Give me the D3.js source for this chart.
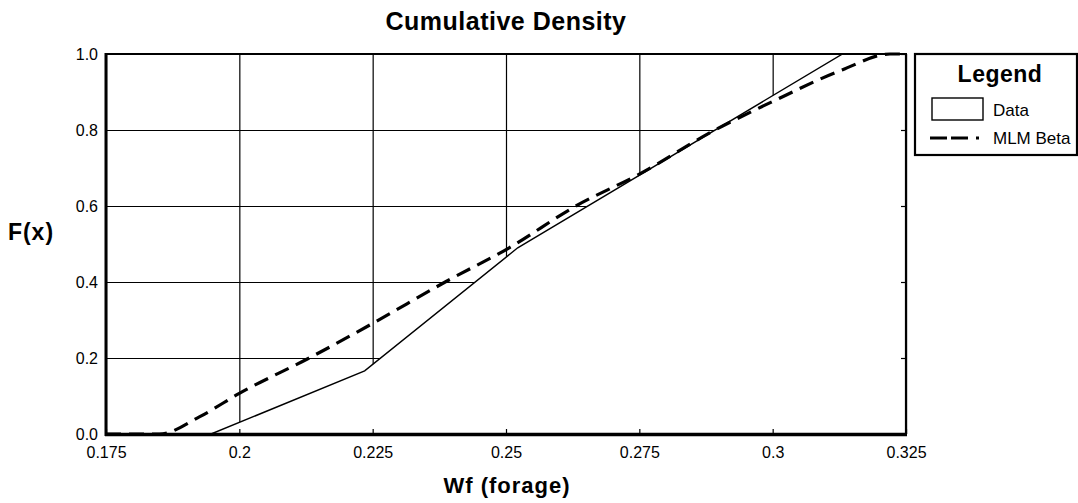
<!DOCTYPE html>
<html>
<head>
<meta charset="utf-8">
<script src="https://cdn.jsdelivr.net/npm/d3@7"></script>
<style>
  html, body { margin: 0; padding: 0; background: #fff; }
  text { font-family: "Liberation Sans", Arial, sans-serif; fill: #000; }
</style>
</head>
<body>
<svg id="chart" width="1078" height="503"></svg>
<script>
// ---- data ----
const chartTitle = "Cumulative Density";
const xLabel = "Wf (forage)";
const yLabel = "F(x)";
const xTicks = [0.175, 0.2, 0.225, 0.25, 0.275, 0.3, 0.325];
const xTickLabels = ["0.175", "0.2", "0.225", "0.25", "0.275", "0.3", "0.325"];
const yTicks = [0, 0.2, 0.4, 0.6, 0.8, 1.0];
const yTickLabels = ["0.0", "0.2", "0.4", "0.6", "0.8", "1.0"];
const seriesNames = ["Data", "MLM Beta"];
const dataX = [0.175, 0.1947, 0.2235, 0.2522, 0.3131, 0.325];
const dataF = [0, 0, 0.166, 0.49, 1.0, 1.0];
const betaX = [0.175, 0.185, 0.1925, 0.2, 0.2131, 0.225, 0.2386, 0.2506, 0.2631, 0.275, 0.2892, 0.3, 0.313, 0.322, 0.325];
const betaF = [0, 0, 0.045, 0.107, 0.2, 0.291, 0.4, 0.49, 0.6, 0.684, 0.8, 0.875, 0.958, 1.0, 1.0];

// ---- layout ----
const L = 106, R = 906, T = 54, B = 434;
const svg = d3.select("#chart");
svg.append("rect").attr("width", 1078).attr("height", 503).attr("fill", "#fff");

const x = d3.scaleLinear().domain([0.175, 0.325]).range([L, R]);
const y = d3.scaleLinear().domain([0, 1]).range([B, T]);

// grid
const gx = svg.append("g").attr("transform", `translate(0,${B})`)
  .call(d3.axisBottom(x).tickValues(xTicks).tickSize(-(B - T)).tickFormat(""));
gx.select(".domain").remove();
gx.selectAll("line").attr("stroke", "#000").attr("stroke-width", 1.2);
const gy = svg.append("g").attr("transform", `translate(${L},0)`)
  .call(d3.axisLeft(y).tickValues(yTicks).tickSize(-(R - L)).tickFormat(""));
gy.select(".domain").remove();
gy.selectAll("line").attr("stroke", "#000").attr("stroke-width", 1.2);

// data area (white) hides grid under curve
const dataPts = dataX.map((v, i) => [v, dataF[i]]);
const betaPts = betaX.map((v, i) => [v, betaF[i]]);
svg.append("path").datum(dataPts)
  .attr("d", d3.area().x(d => x(d[0])).y0(y(0)).y1(d => y(d[1])))
  .attr("fill", "#fff");
svg.append("path").datum(dataPts)
  .attr("d", d3.line().x(d => x(d[0])).y(d => y(d[1])))
  .attr("fill", "none").attr("stroke", "#000").attr("stroke-width", 1.4);

// beta dashed
svg.append("path").datum(betaPts)
  .attr("d", d3.line().curve(d3.curveMonotoneX).x(d => x(d[0])).y(d => y(d[1])))
  .attr("fill", "none").attr("stroke", "#000").attr("stroke-width", 3.2)
  .attr("stroke-dasharray", "15,8");

// inner ticks
const tb = svg.append("g").attr("transform", `translate(0,${B})`)
  .call(d3.axisTop(x).tickValues(xTicks).tickSize(5).tickFormat(""));
tb.select(".domain").remove();
tb.selectAll("line").attr("stroke", "#000").attr("stroke-width", 1.2);
const tr = svg.append("g").attr("transform", `translate(${R},0)`)
  .call(d3.axisLeft(y).tickValues(yTicks).tickSize(5).tickFormat(""));
tr.select(".domain").remove();
tr.selectAll("line").attr("stroke", "#000").attr("stroke-width", 1.2);

// frame
svg.append("line").attr("x1", L - 1).attr("x2", R + 1).attr("y1", T).attr("y2", T).attr("stroke", "#000").attr("stroke-width", 2.2);
svg.append("line").attr("x1", R).attr("x2", R).attr("y1", T).attr("y2", B).attr("stroke", "#000").attr("stroke-width", 2.2);
svg.append("line").attr("x1", L).attr("x2", L).attr("y1", T - 1).attr("y2", B + 2).attr("stroke", "#000").attr("stroke-width", 3);
svg.append("line").attr("x1", L - 1).attr("x2", R + 1).attr("y1", B + 0.5).attr("y2", B + 0.5).attr("stroke", "#000").attr("stroke-width", 3.5);

// tick labels
const lx = svg.append("g").attr("transform", `translate(0,${B})`)
  .call(d3.axisBottom(x).tickValues(xTicks).tickSize(0).tickPadding(13)
    .tickFormat((d, i) => xTickLabels[i]));
lx.select(".domain").remove();
lx.selectAll("text").attr("font-size", 16).attr("font-family", '"Liberation Sans", Arial, sans-serif');
const ly = svg.append("g").attr("transform", `translate(${L},0)`)
  .call(d3.axisLeft(y).tickValues(yTicks).tickSize(0).tickPadding(8)
    .tickFormat((d, i) => yTickLabels[i]));
ly.select(".domain").remove();
ly.selectAll("text").attr("font-size", 16).attr("font-family", '"Liberation Sans", Arial, sans-serif');

// titles
svg.append("text").attr("x", 506).attr("y", 30).attr("text-anchor", "middle")
  .attr("font-size", 25).attr("font-weight", "bold").attr("letter-spacing", 0.5).text(chartTitle);
svg.append("text").attr("x", 507).attr("y", 493).attr("text-anchor", "middle")
  .attr("font-size", 22).attr("font-weight", "bold").attr("letter-spacing", 1).text(xLabel);
svg.append("text").attr("x", 31).attr("y", 240).attr("text-anchor", "middle")
  .attr("font-size", 23).attr("font-weight", "bold").attr("letter-spacing", 1).text(yLabel);

// legend
const lg = svg.append("g");
lg.append("rect").attr("x", 915).attr("y", 54).attr("width", 162).attr("height", 101)
  .attr("fill", "#fff").attr("stroke", "#000").attr("stroke-width", 2.2);
lg.append("text").attr("x", 1000).attr("y", 82).attr("text-anchor", "middle")
  .attr("font-size", 23).attr("font-weight", "bold").attr("letter-spacing", 0.5).text("Legend");
lg.append("rect").attr("x", 932).attr("y", 98).attr("width", 51).attr("height", 22)
  .attr("fill", "#fff").attr("stroke", "#000").attr("stroke-width", 1.4);
lg.append("text").attr("x", 993).attr("y", 110).attr("dy", "0.35em")
  .attr("font-size", 17).text(seriesNames[0]);
lg.append("line").attr("x1", 930).attr("x2", 983).attr("y1", 138).attr("y2", 138)
  .attr("stroke", "#000").attr("stroke-width", 3).attr("stroke-dasharray", "17,4,17,8,3,100");
lg.append("text").attr("x", 993).attr("y", 138).attr("dy", "0.35em")
  .attr("font-size", 17).text(seriesNames[1]);
</script>
</body>
</html>
